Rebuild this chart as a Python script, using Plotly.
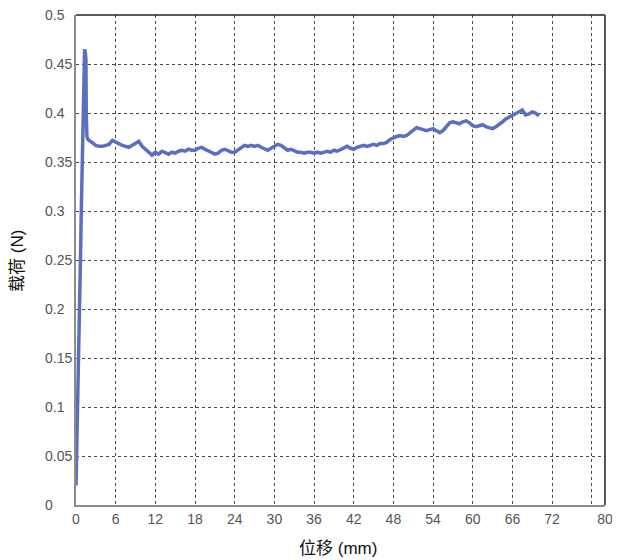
import plotly.graph_objects as go

# ---- data ----
rise_disp = [0.0, 0.1, 0.2, 0.3, 0.4, 0.5, 0.6, 0.7, 0.8, 0.9, 1.0, 1.05, 1.1, 1.2, 1.3, 1.4, 1.5, 1.55, 1.65, 1.8]
rise_load = [0.02, 0.05, 0.07, 0.11, 0.15, 0.18, 0.22, 0.26, 0.30, 0.34, 0.37, 0.40, 0.43, 0.455, 0.465, 0.462, 0.455, 0.40, 0.376, 0.373]

plateau_disp = [2.0, 2.5, 3.0, 3.5, 4.0, 4.5, 5.0, 5.5, 6.0, 6.5, 7.0, 7.5, 8.0, 8.5, 9.0, 9.5,
                10.0, 10.5, 11.0, 11.5, 12.0, 12.5, 13.0, 13.5, 14.0, 14.5, 15.0, 15.5, 16.0, 16.5,
                17.0, 17.5, 18.0, 18.5, 19.0, 19.5, 20.0, 20.5, 21.0, 21.5, 22.0, 22.5, 23.0, 23.5,
                24.0, 24.5, 25.0, 25.5, 26.0, 26.5, 27.0, 27.5, 28.0, 28.5, 29.0, 29.5, 30.0, 30.5,
                31.0, 31.5, 32.0, 32.5, 33.0, 33.5, 34.0, 34.5, 35.0, 35.5, 36.0, 36.5, 37.0, 37.5,
                38.0, 38.5, 39.0, 39.5, 40.0, 40.5, 41.0, 41.5, 42.0, 42.5, 43.0, 43.5, 44.0, 44.5,
                45.0, 45.5, 46.0, 46.5, 47.0, 47.5, 48.0, 48.5, 49.0, 49.5, 50.0, 50.5, 51.0, 51.5,
                52.0, 52.5, 53.0, 53.5, 54.0, 54.5, 55.0, 55.5, 56.0, 56.5, 57.0, 57.5, 58.0, 58.5,
                59.0, 59.5, 60.0, 60.5, 61.0, 61.5, 62.0, 62.5, 63.0, 63.5, 64.0, 64.5, 65.0, 65.5,
                66.0, 66.5, 67.0, 67.5, 68.0, 68.5, 69.0, 69.5, 70.0]
plateau_load = [0.372, 0.369, 0.367, 0.366, 0.366, 0.367, 0.368, 0.372, 0.370, 0.369, 0.367, 0.366,
                0.365, 0.367, 0.369, 0.371, 0.366, 0.363, 0.359, 0.357, 0.360, 0.358, 0.361, 0.359,
                0.358, 0.360, 0.359, 0.361, 0.362, 0.361, 0.363, 0.362, 0.362, 0.364, 0.365, 0.363,
                0.361, 0.360, 0.358, 0.359, 0.362, 0.363, 0.361, 0.360, 0.360, 0.362, 0.364, 0.367,
                0.366, 0.367, 0.366, 0.367, 0.365, 0.363, 0.362, 0.364, 0.366, 0.368, 0.367, 0.364,
                0.362, 0.363, 0.361, 0.360, 0.360, 0.359, 0.360, 0.360, 0.359, 0.360, 0.359, 0.360,
                0.361, 0.360, 0.362, 0.361, 0.363, 0.365, 0.366, 0.364, 0.363, 0.365, 0.366, 0.367,
                0.366, 0.367, 0.368, 0.367, 0.369, 0.369, 0.370, 0.373, 0.375, 0.376, 0.377, 0.376,
                0.377, 0.380, 0.383, 0.385, 0.384, 0.383, 0.382, 0.383, 0.384, 0.382, 0.380, 0.382,
                0.386, 0.390, 0.391, 0.390, 0.389, 0.391, 0.392, 0.390, 0.387, 0.386, 0.387, 0.388,
                0.386, 0.385, 0.384, 0.386, 0.388, 0.391, 0.394, 0.396, 0.398, 0.400, 0.401, 0.403,
                0.398, 0.399, 0.401, 0.400, 0.397]

x_tickvals = [0, 6, 12, 18, 24, 30, 36, 42, 48, 54, 60, 66, 72, 78, 80]
x_ticktext = ["0", "6", "12", "18", "24", "30", "36", "42", "48", "54", "60", "66", "72", "", "80"]
y_tickvals = [0, 0.05, 0.1, 0.15, 0.2, 0.25, 0.3, 0.35, 0.4, 0.45, 0.5]
y_ticktext = ["0", "0.05", "0.1", "0.15", "0.2", "0.25", "0.3", "0.35", "0.4", "0.45", "0.5"]

x_title = "位移 (mm)"
y_title = "载荷 (N)"

disp = rise_disp + plateau_disp
load = rise_load + plateau_load

LINE = "#5b6ec0"
TICK = "#555555"
GRID = "#4a4a4a"
FONT = "Liberation Sans, Arial, sans-serif"
CJK = "Liberation Sans, Noto Sans CJK SC, sans-serif"

fig = go.Figure()
fig.add_trace(go.Scatter(x=disp, y=load, mode="lines",
                         line=dict(color=LINE, width=3.5), hoverinfo="skip",
                         showlegend=False))

# page has an 8px body margin; compensate so the plot lands where the reference has it
OFF = 8
W, H = 612, 552
L, R, T, B = 76 - OFF, 11, 15 - OFF, 55
pw = W - L - R
ph = H - T - B

fig.update_layout(
    width=W, height=H,
    margin=dict(l=L, r=R, t=T, b=B),
    paper_bgcolor="white", plot_bgcolor="white",
    font=dict(family=FONT, size=14, color=TICK),
    xaxis=dict(range=[0, 80], tickvals=x_tickvals, ticktext=x_ticktext,
               showgrid=True, gridcolor=GRID, griddash="dot", gridwidth=1,
               zeroline=False, showline=True, linecolor="#8c8c8c", linewidth=2,
               ticks="", tickfont=dict(family=FONT, size=14, color=TICK)),
    yaxis=dict(range=[0, 0.5], tickvals=y_tickvals,
               showgrid=True, gridcolor=GRID, griddash="dot", gridwidth=1,
               zeroline=False, showline=True, linecolor="#8c8c8c", linewidth=2,
               ticks="", showticklabels=False),
)

# top and right frame lines (darker)
fig.add_shape(type="line", xref="paper", yref="paper", x0=0, x1=1, y0=1, y1=1,
              line=dict(color="#222222", width=1.5))
fig.add_shape(type="line", xref="paper", yref="paper", x0=1, x1=1, y0=0, y1=1,
              line=dict(color="#222222", width=1.5))

# left-aligned y tick labels
lab_x = (42.7 - 76) / pw
for v, t in zip(y_tickvals, y_ticktext):
    fig.add_annotation(x=lab_x, xref="paper", y=v, yref="y", text=t,
                       showarrow=False, xanchor="left", yanchor="middle",
                       font=dict(family=FONT, size=14, color=TICK))

# axis titles (positions in page pixels, converted to paper fractions)
fig.add_annotation(x=(16.5 - 76) / pw, xref="paper", y=(505 - 261) / ph, yref="paper",
                   text=y_title, textangle=-90, showarrow=False,
                   xanchor="center", yanchor="middle",
                   font=dict(family=CJK, size=17, color="#111111"))
fig.add_annotation(x=(339.5 - 76) / pw, xref="paper", y=(505 - 548) / ph, yref="paper",
                   text=x_title, showarrow=False,
                   xanchor="center", yanchor="middle",
                   font=dict(family=CJK, size=17, color="#111111"))

fig.write_html("out.html")
